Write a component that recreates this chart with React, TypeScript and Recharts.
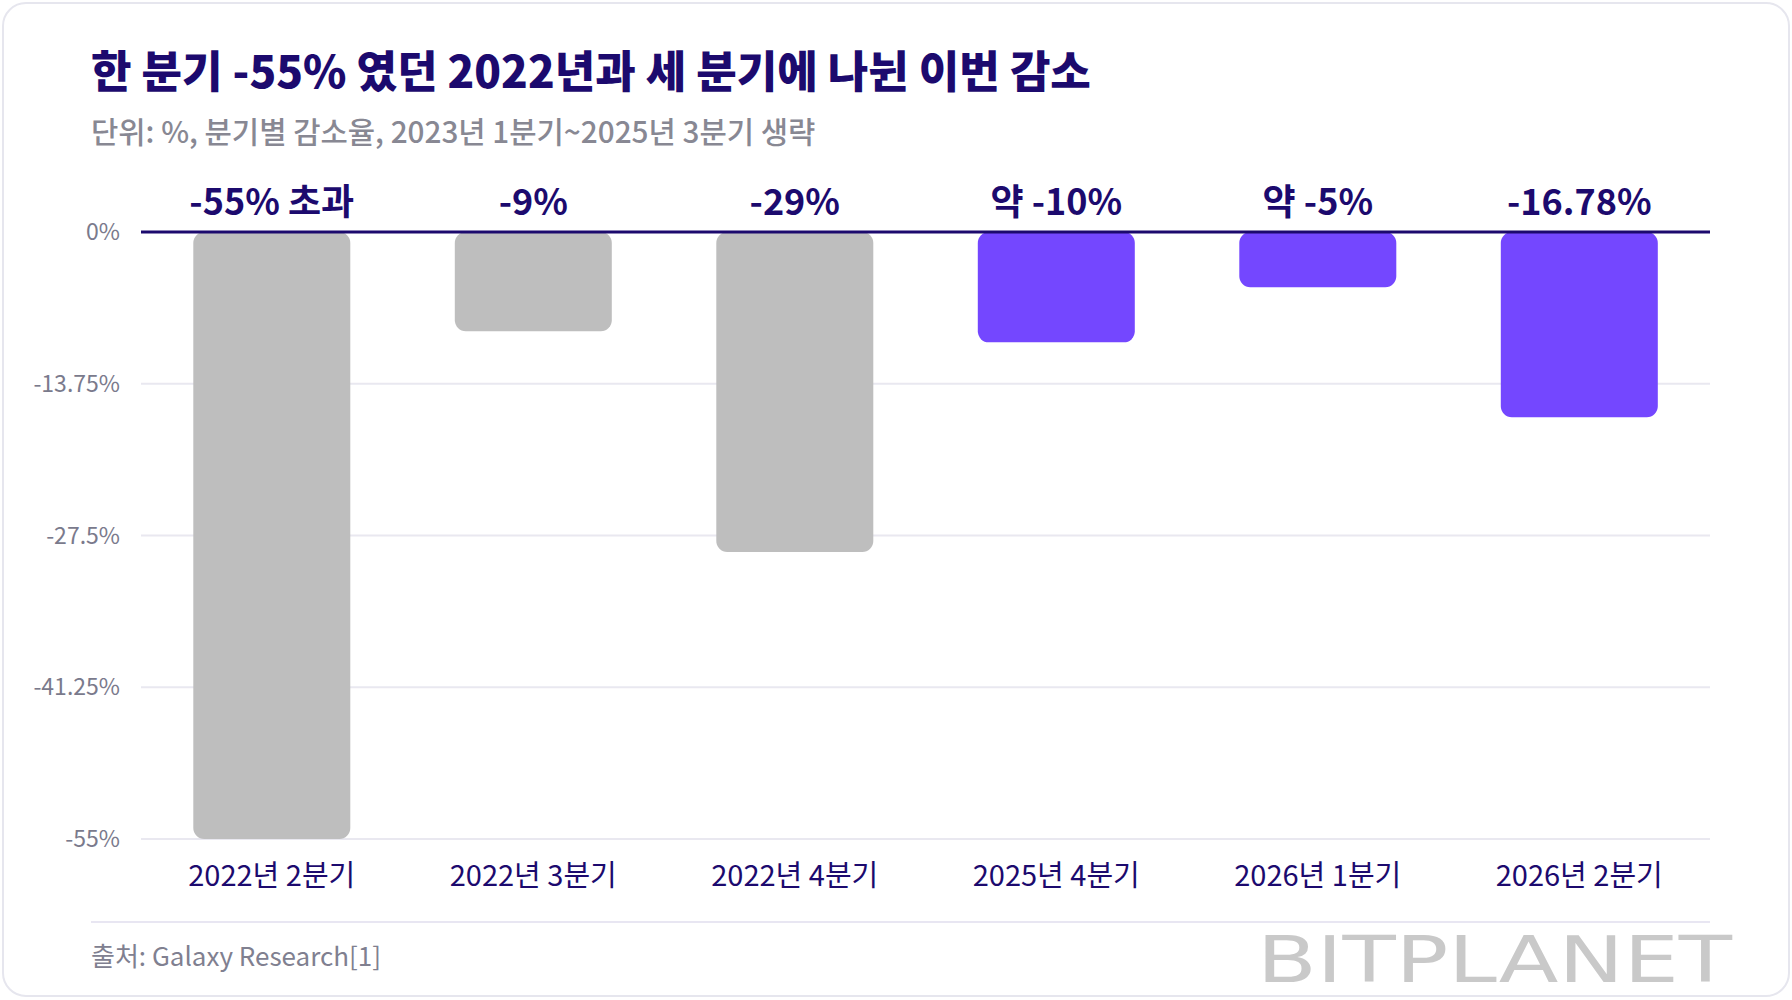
import { Bar, BarChart, CartesianGrid, Cell, LabelList, ReferenceLine, XAxis, YAxis } from 'recharts'

const quarters = ['2022년 2분기', '2022년 3분기', '2022년 4분기', '2025년 4분기', '2026년 1분기', '2026년 2분기']
const declines = [-55, -9, -29, -10, -5, -16.78]
const valueLabels = ['-55% 초과', '-9%', '-29%', '약 -10%', '약 -5%', '-16.78%']
const isRecent = [false, false, false, true, true, true]
const yTicks = [0, -13.75, -27.5, -41.25, -55]

const NAVY = '#1c0a6e'
const GRAY_BAR = '#bebebe'
const PURPLE = '#7447ff'
const FONT = '"Noto Sans CJK KR", "Noto Sans", sans-serif'

const data = quarters.map((q, i) => ({ q, value: declines[i], label: valueLabels[i], recent: isRecent[i] }))

const TopLabel = (props: any) => {
  const { x, y, width, height, index } = props
  const top = Math.min(Number(y), Number(y) + Number(height))
  return (
    <text
      x={Number(x) + Number(width) / 2}
      y={top - 17}
      textAnchor="middle"
      fill={NAVY}
      fontSize={36}
      fontWeight={700}
      fontFamily={FONT}
    >
      {valueLabels[index]}
    </text>
  )
}

export default function App() {
  return (
    <div style={{ position: 'fixed', left: 0, top: 0, width: 1792, height: 1000, background: '#fff', fontFamily: FONT }}>
      <div
        style={{
          position: 'absolute',
          left: 2,
          top: 2,
          width: 1784,
          height: 991,
          border: '2px solid #e6e6ee',
          borderRadius: 24,
        }}
      />
      <BarChart
        width={1792}
        height={1000}
        data={data}
        margin={{ top: 232, right: 82, left: 81, bottom: 101 }}
        barCategoryGap="20%"
        style={{ position: 'absolute', left: 0, top: 0 }}
      >
        <CartesianGrid stroke="#e9e8f0" strokeWidth={2} vertical={false} />
        <XAxis
          dataKey="q"
          axisLine={false}
          tickLine={false}
          height={60}
          tickMargin={20}
          interval={0}
          tick={{ fontSize: 29, fill: NAVY, fontFamily: FONT }}
        />
        <YAxis
          width={60}
          domain={[-55, 0]}
          ticks={yTicks}
          axisLine={false}
          tickLine={false}
          tickMargin={15}
          tick={{ fontSize: 23, fill: '#7a7a8c', fontFamily: FONT }}
          tickFormatter={(v: number) => `${v}%`}
        />
        <ReferenceLine y={0} stroke={NAVY} strokeWidth={3} />
        <Bar dataKey="value" radius={[11, 11, 11, 11]} isAnimationActive={false}>
          {data.map((d) => (
            <Cell key={d.q} fill={d.recent ? PURPLE : GRAY_BAR} />
          ))}
          <LabelList dataKey="label" content={TopLabel} />
        </Bar>
      </BarChart>
      <svg width={1792} height={1000} style={{ position: 'absolute', left: 0, top: 0, pointerEvents: 'none' }}>
        <text x={91} y={88} fontSize={44} fontWeight={800} fill={NAVY} fontFamily={FONT}>
          한 분기 -55% 였던 2022년과 세 분기에 나뉜 이번 감소
        </text>
        <text x={91} y={143} fontSize={29.7} fontWeight={500} fill="#888893" fontFamily={FONT}>
          단위: %, 분기별 감소율, 2023년 1분기~2025년 3분기 생략
        </text>
        <line x1={91} x2={1710} y1={922} y2={922} stroke="#e8e6f2" strokeWidth={2} />
        <text x={91} y={966} fontSize={26} fill="#808090" fontFamily={FONT}>
          출처: Galaxy Research[1]
        </text>
        <text
          x={1257}
          y={982}
          fontSize={64}
          fill="#c9c9c9"
          fontFamily="DejaVu Sans, sans-serif"
          textLength={475}
          lengthAdjust="spacingAndGlyphs"
        >
          BITPLANET
        </text>
      </svg>
    </div>
  )
}
